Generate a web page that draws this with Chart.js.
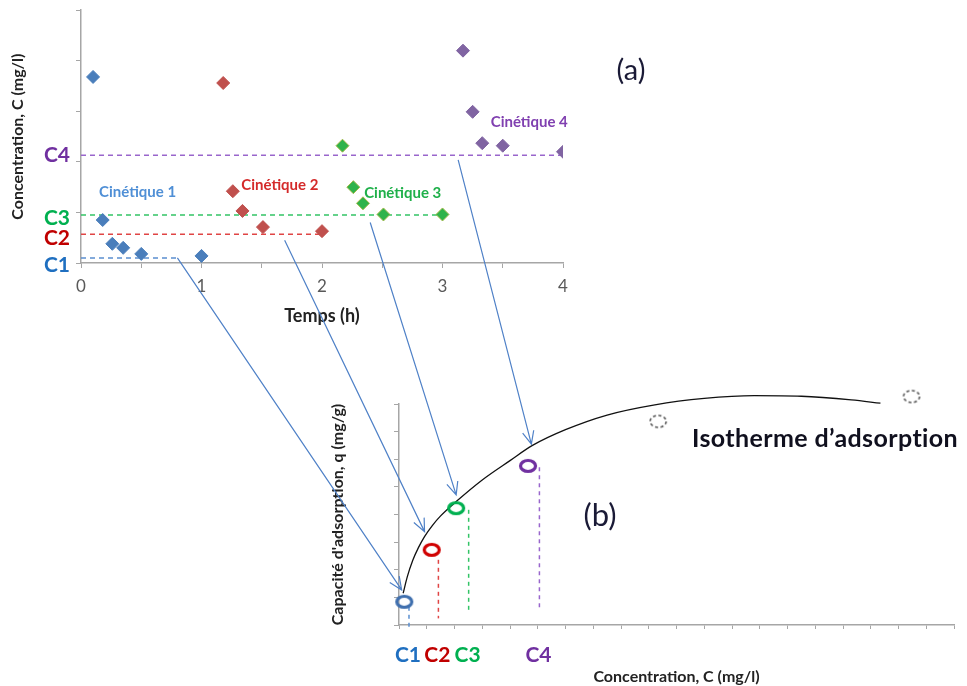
<!DOCTYPE html>
<html>
<head>
<meta charset="utf-8">
<style>
	body { margin: 0; background: #fff; }
	#page { position: relative; width: 967px; height: 686px; overflow: hidden; font-family: Lato, "Open Sans", sans-serif; }
	canvas { position: absolute; }
	.note { position: absolute; transform: translate(-50%, -50%); white-space: nowrap; color: #1a1a36; }
</style>
</head>
<body>
<div id="page">
	<canvas id="kinetics" width="600" height="335" style="left:0;top:0"></canvas>
	<canvas id="isotherm" width="667" height="316" style="left:300px;top:370px"></canvas>
	<canvas id="arrows" width="967" height="686" style="left:0;top:0"></canvas>
	<div class="note" style="left:631px;top:68px;font-size:29px">(a)</div>
	<div class="note" style="left:600px;top:514px;font-size:31px">(b)</div>
	<div class="note" style="left:825px;top:437px;font-size:25px;font-weight:bold;letter-spacing:0.4px;color:#10101e">Isotherme d’adsorption</div>
</div>

<script src="https://cdn.jsdelivr.net/npm/chart.js@4/dist/chart.umd.min.js"></script>

<script>
	// --- (a) kinetics: time (h) vs concentration
	const hours1 = [0.10, 0.18, 0.26, 0.35, 0.50, 1.00]
	const conc1 = [3.68, 0.85, 0.38, 0.30, 0.18, 0.14]
	const hours2 = [1.18, 1.26, 1.34, 1.51, 2.00]
	const conc2 = [3.56, 1.42, 1.03, 0.71, 0.63]
	const hours3 = [2.17, 2.26, 2.34, 2.51, 3.00]
	const conc3 = [2.32, 1.50, 1.18, 0.96, 0.96]
	const hours4 = [3.17, 3.25, 3.33, 3.50, 4.00]
	const conc4 = [4.20, 2.99, 2.37, 2.32, 2.20]

	const cNames = ["C1", "C2", "C3", "C4"]
	const cLevels = [0.10, 0.57, 0.95, 2.13]      // equilibrium concentrations on the (a) y axis
	const cLineEnds = [0.8, 2.0, 3.0, 4.0]        // hours where each dashed level stops
	const kinNames = ["Cinétique 1", "Cinétique 2", "Cinétique 3", "Cinétique 4"]
	const kinLabelH = [0.47, 1.65, 2.67, 3.72]
	const kinLabelC = [1.40, 1.54, 1.39, 2.78]
	const timeTicks = ["0", "1", "2", "3", "4"]

	// --- (b) isotherm: concentration vs capacity
	const isoC = [0.15, 0.3, 0.5, 0.7, 0.92, 1.2, 1.5, 2.04, 3.0, 4.0, 4.81, 6.0, 7.5, 9.22, 11.0, 12.8, 14.5, 16.3, 17.35]
	const isoQ = [1.15, 1.75, 2.35, 2.8, 3.2, 3.6, 3.95, 4.45, 5.25, 5.95, 6.5, 7.07, 7.6, 7.97, 8.2, 8.3, 8.28, 8.15, 8.03]
	const ringC = [0.19, 1.18, 2.06, 4.65]
	const ringQ = [0.84, 2.72, 4.23, 5.76]
	const extraC = [9.34, 18.47]
	const extraQ = [7.37, 8.27]
	const dropC = [0.36, 1.42, 2.51, 5.06]
	const dropTop = [0.66, 2.36, 4.17, 5.71]
	const dropBottom = [-0.1, 0.24, 0.54, 0.54]

	// --- arrows from (a) to (b)
	const arrowFromH = [0.80, 1.69, 2.40, 3.13]
	const arrowFromC = [0.10, 0.45, 0.80, 2.04]
	const arrowToC = [0.095, 0.92, 2.06, 4.77]
	const arrowToQ = [1.27, 3.38, 4.71, 6.55]

	const markColours = ["#4a7ebb", "#c0504d", "#2fb34b", "#8064a2"]
	const markBorders = ["#4a7ebb", "#c0504d", "#a3b94a", "#8064a2"]
	const levelColours = ["#5b8fd0", "#e04545", "#33c466", "#9966cc"]
	const cColours = ["#1f6fc0", "#c00000", "#00b050", "#7030a0"]
	const kinColours = ["#4f8fd6", "#d42a2a", "#1fb04a", "#8040b0"]
	const ringColours = ["#3f6fae", "#d00000", "#00b050", "#7030a0"]
	const FONT = "Lato, 'Open Sans', sans-serif"
	const AXIS = "#a6a6a6"

	function pts(xs, ys) {
		return xs.map((x, i) => ({x: x, y: ys[i]}))
	}

	function makeRing(colour, dashed) {
		const c = document.createElement("canvas")
		c.width = 22
		c.height = 18
		const g = c.getContext("2d")
		g.strokeStyle = colour
		g.lineWidth = dashed ? 1.6 : 3.2
		if (dashed) g.setLineDash([3, 2.5])
		g.beginPath()
		g.ellipse(11, 9, dashed ? 8 : 7.5, dashed ? 6 : 5.5, 0, 0, Math.PI * 2)
		g.stroke()
		return c
	}

	const kinDatasets = [[hours1, conc1], [hours2, conc2], [hours3, conc3], [hours4, conc4]].map((s, i) => ({
		type: "scatter",
		data: pts(s[0], s[1]),
		pointStyle: "rectRot",
		pointRadius: 6.5,
		pointBorderWidth: 1,
		backgroundColor: markColours[i],
		borderColor: markBorders[i],
		order: 1,
	}))

	const levelDatasets = cLevels.map((c, i) => ({
		type: "line",
		data: [{x: 0, y: c}, {x: cLineEnds[i], y: c}],
		borderColor: levelColours[i],
		borderWidth: 1.5,
		borderDash: [5, 4],
		pointRadius: 0,
		order: 2,
	}))

	const kinLabelsPlugin = {
		id: "kinLabels",
		afterDatasetsDraw(chart) {
			const ctx = chart.ctx
			const xs = chart.scales.x, ys = chart.scales.y
			ctx.save()
			ctx.textBaseline = "middle"
			ctx.textAlign = "center"
			ctx.font = "bold 15px " + FONT
			kinNames.forEach((t, i) => {
				ctx.fillStyle = kinColours[i]
				ctx.fillText(t, xs.getPixelForValue(kinLabelH[i]), ys.getPixelForValue(kinLabelC[i]))
			})
			ctx.textAlign = "right"
			ctx.font = "bold 21px " + FONT
			const nudge = [7, 4, 3, 0]
			cNames.forEach((t, i) => {
				ctx.fillStyle = cColours[i]
				ctx.fillText(t, chart.chartArea.left - 11, ys.getPixelForValue(cLevels[i]) + nudge[i])
			})
			ctx.restore()
		}
	}

	const chartA = new Chart(document.getElementById("kinetics"), {
		data: {datasets: kinDatasets.concat(levelDatasets)},
		options: {
			responsive: false,
			animation: false,
			layout: {padding: {top: 10, left: 0, right: 37, bottom: 0}},
			plugins: {legend: {display: false}, tooltip: {enabled: false}},
			scales: {
				x: {
					type: "linear", min: 0, max: 4,
					ticks: {
						stepSize: 0.5, padding: 8, color: "#595959", font: {family: FONT, size: 17},
						callback: (v) => Number.isInteger(v) ? timeTicks[v] : "",
					},
					grid: {drawOnChartArea: false, tickLength: 5, color: AXIS},
					border: {color: AXIS, width: 1.5},
					title: {display: true, text: "Temps (h)", color: "#222", font: {family: FONT, size: 18, weight: "bold"}, padding: {top: 0, bottom: 8}},
					afterFit: (s) => { s.height = 72 },
				},
				y: {
					type: "linear", min: 0, max: 5,
					ticks: {stepSize: 1, callback: () => ""},
					grid: {drawOnChartArea: false, tickLength: 5, color: AXIS},
					border: {color: AXIS, width: 1.5},
					title: {display: true, text: "Concentration, C (mg/l)", color: "#222", font: {family: FONT, size: 16, weight: "bold"}, padding: {top: 8.5, bottom: 0}},
					afterFit: (s) => { s.width = 81 },
				},
			},
		},
		plugins: [kinLabelsPlugin],
	})

	const isoDatasets = [
		{
			type: "line",
			data: pts(isoC, isoQ),
			borderColor: "#111",
			borderWidth: 1.3,
			cubicInterpolationMode: "monotone",
			pointRadius: 0,
			clip: false,
			order: 3,
		},
		{
			type: "scatter",
			data: pts(ringC, ringQ),
			pointStyle: ringColours.map((c) => makeRing(c, false)),
			pointRadius: 12,
			clip: false,
			order: 1,
		},
		{
			type: "scatter",
			data: pts(extraC, extraQ),
			pointStyle: makeRing("#555", true),
			pointRadius: 12,
			clip: false,
			order: 1,
		},
	].concat(dropC.map((c, i) => ({
		type: "line",
		data: [{x: c, y: dropTop[i]}, {x: c, y: dropBottom[i]}],
		borderColor: levelColours[i],
		borderWidth: 1.5,
		borderDash: [4, 4],
		pointRadius: 0,
		clip: false,
		order: 2,
	})))

	const isoLabelsPlugin = {
		id: "isoLabels",
		afterDatasetsDraw(chart) {
			const ctx = chart.ctx
			const xs = chart.scales.x
			ctx.save()
			ctx.textBaseline = "middle"
			ctx.textAlign = "center"
			ctx.font = "bold 21px " + FONT
			cNames.forEach((t, i) => {
				ctx.fillStyle = cColours[i]
				ctx.fillText(t, xs.getPixelForValue(dropC[i]) - 1, chart.chartArea.bottom + 30)
			})
			ctx.restore()
		}
	}

	const chartB = new Chart(document.getElementById("isotherm"), {
		data: {datasets: isoDatasets},
		options: {
			responsive: false,
			animation: false,
			layout: {padding: {top: 34, left: 0, right: 2, bottom: 0}},
			plugins: {legend: {display: false}, tooltip: {enabled: false}},
			scales: {
				x: {
					type: "linear", min: 0, max: 20,
					ticks: {stepSize: 1, callback: () => ""},
					grid: {drawOnChartArea: false, tickLength: 4, color: AXIS},
					border: {color: AXIS, width: 1.5},
					title: {display: true, text: "Concentration, C (mg/l)", color: "#222", font: {family: FONT, size: 16, weight: "bold"}, padding: {top: 0, bottom: 0}},
					afterFit: (s) => { s.height = 61 },
				},
				y: {
					type: "linear", min: 0, max: 8,
					ticks: {stepSize: 1, callback: () => ""},
					grid: {drawOnChartArea: false, tickLength: 5, color: AXIS},
					border: {color: AXIS, width: 1.5},
					title: {display: true, text: "Capacité d'adsorption, q (mg/g)", color: "#222", font: {family: FONT, size: 16, weight: "bold"}, padding: {top: 28.5, bottom: 0}},
					afterFit: (s) => { s.width = 99 },
				},
			},
		},
		plugins: [isoLabelsPlugin],
	})

	// arrows: start on the (a) scales, end on the (b) scales
	function drawArrows() {
		const ctx = document.getElementById("arrows").getContext("2d")
		const offA = {x: 0, y: 0}, offB = {x: 300, y: 370}
		ctx.strokeStyle = "#4f81c7"
		ctx.lineWidth = 1.2
		arrowFromH.forEach((h, i) => {
			const x1 = offA.x + chartA.scales.x.getPixelForValue(h)
			const y1 = offA.y + chartA.scales.y.getPixelForValue(arrowFromC[i])
			const x2 = offB.x + chartB.scales.x.getPixelForValue(arrowToC[i])
			const y2 = offB.y + chartB.scales.y.getPixelForValue(arrowToQ[i])
			const a = Math.atan2(y2 - y1, x2 - x1)
			ctx.beginPath()
			ctx.moveTo(x1, y1)
			ctx.lineTo(x2, y2)
			ctx.moveTo(x2 - 14 * Math.cos(a - 0.42), y2 - 14 * Math.sin(a - 0.42))
			ctx.lineTo(x2, y2)
			ctx.lineTo(x2 - 14 * Math.cos(a + 0.42), y2 - 14 * Math.sin(a + 0.42))
			ctx.stroke()
		})
	}
	drawArrows()
</script>
</body>
</html>
